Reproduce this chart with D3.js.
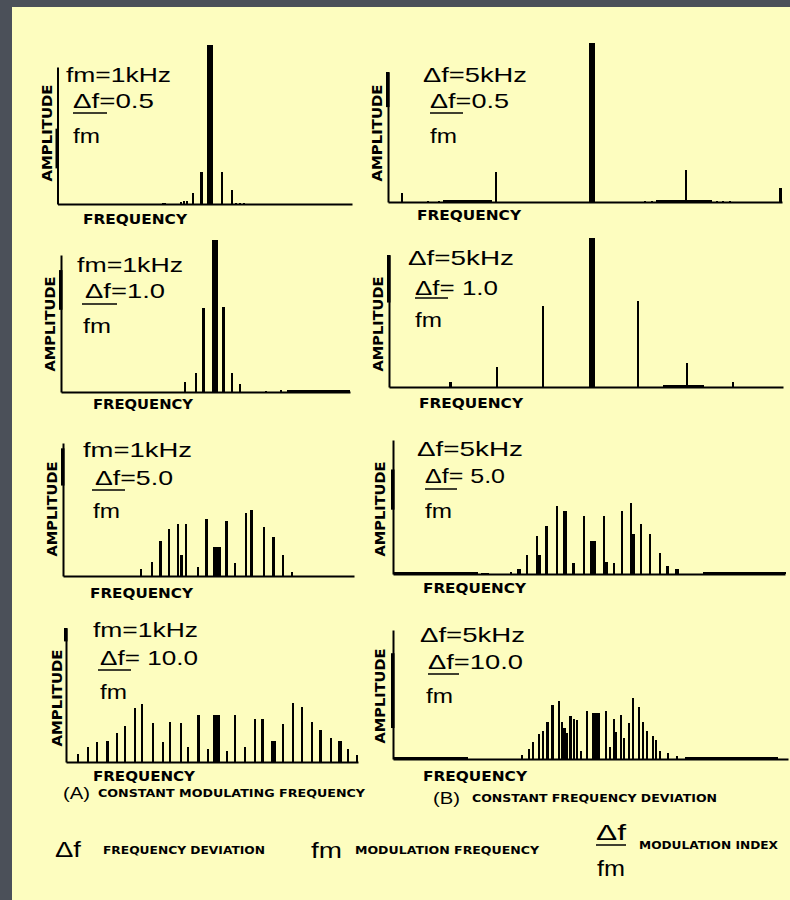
<!DOCTYPE html>
<html>
<head>
<meta charset="utf-8">
<script src="https://cdn.jsdelivr.net/npm/d3@7"></script>
<style>
  body { margin: 0; background: #4b5059; }
  svg { display: block; }
</style>
</head>
<body>
<svg id="chart" width="790" height="900"></svg>
<script>
// FM spectra: spectral lines.
// freq = offset from the carrier in kHz, amp = relative to the drawn y axis,
// spread = width of a merged cluster of lines in kHz (0 = single line)

// (A) constant modulating frequency, fm = 1 kHz
const a1Domain = [-16.2, 15.1];
const a1Freq = [-5.0, -4.8, -3.1, -2.8, -2.4, -1.8, -0.9, 0, 1.3, 2.3, 2.8, 3.2, 3.6];
const a1Amp = [0.01, 0.01, 0.015, 0.02, 0.02, 0.08, 0.23, 1.16, 0.23, 0.10, 0.01, 0.01, 0.01];
const a1Spread = [0, 0, 0, 0, 0, 0.2, 0.25, 0.64, 0.15, 0, 0, 0, 0];

const a2Domain = [-16.4, 14.4];
const a2Freq = [-3.2, -2.0, -1.2, 0, 0.9, 1.8, 2.7, 5.4, 7.0, 11.05];
const a2Amp = [0.07, 0.14, 0.61, 1.11, 0.62, 0.14, 0.06, 0.01, 0.015, 0.015];
const a2Spread = [0, 0, 0.3, 0.6, 0.3, 0, 0, 0, 0, 6.7];

const a3Domain = [-16.4, 14.6];
const a3Freq = [-8.1, -6.9, -6.0, -5.1, -4.1, -3.8, -3.3, -2.0, -1.1, 0, 1.0, 1.9, 3.1, 3.7, 5.0, 6.0, 7.0, 8.0];
const a3Amp = [0.05, 0.105, 0.26, 0.35, 0.39, 0.16, 0.39, 0.07, 0.43, 0.22, 0.41, 0.10, 0.47, 0.50, 0.37, 0.29, 0.16, 0.03];
const a3Spread = [0, 0, 0.3, 0.3, 0, 0.3, 0, 0, 0.3, 0.8, 0.3, 0, 0, 0.3, 0, 0.3, 0, 0.3];

const a4Domain = [-16.0, 15.1];
const a4Freq = [-14.7, -13.7, -12.7, -11.6, -10.6, -9.7, -8.6, -7.9, -6.7, -5.7, -4.9, -3.7, -3.0, -1.9, -0.9, 0,
  1.1, 2.0, 3.1, 4.1, 4.9, 6.1, 7.1, 8.2, 9.1, 10.2, 11.1, 12.2, 13.2, 14.0, 15.0];
const a4Amp = [0.06, 0.11, 0.15, 0.16, 0.22, 0.27, 0.40, 0.43, 0.29, 0.15, 0.30, 0.29, 0.11, 0.35, 0.10, 0.35,
  0.08, 0.35, 0.11, 0.32, 0.32, 0.16, 0.28, 0.44, 0.41, 0.30, 0.24, 0.18, 0.16, 0.10, 0.05];
const a4Spread = [0, 0, 0, 0.35, 0, 0, 0, 0, 0, 0, 0, 0, 0, 0.3, 0, 0.7,
  0, 0, 0, 0, 0.3, 0.45, 0, 0, 0, 0.3, 0.3, 0, 0.4, 0, 0];

// (B) constant frequency deviation, delta f = 5 kHz
const b1Domain = [-21.7, 20.2];
const b1Freq = [-20.2, -17.4, -16.3, -13.2, -10.2, 0, 5.6, 6.4, 9.8, 10.0, 13.3, 13.9, 14.7, 20.0];
const b1Amp = [0.07, 0.01, 0.01, 0.015, 0.23, 1.22, 0.01, 0.01, 0.015, 0.25, 0.01, 0.01, 0.01, 0.11];
const b1Spread = [0, 0, 0, 5.2, 0, 0.65, 0, 0, 5.9, 0.3, 0, 0, 0, 0.3];

const b2Domain = [-21.6, 20.3];
const b2Freq = [-15.1, -10.1, -5.2, 0, 4.9, 9.7, 10.1, 15.0];
const b2Amp = [0.04, 0.15, 0.61, 1.13, 0.65, 0.015, 0.18, 0.04];
const b2Spread = [0.3, 0, 0.15, 0.65, 0.15, 4.3, 0, 0];

const b3Domain = [-21.3, 20.4];
const b3Freq = [-16.8, -11.5, -8.8, -7.9, -7.0, -6.0, -5.7, -5.0, -3.9, -3.0, -2.1, -1.0, 0,
  1.1, 1.4, 2.2, 3.1, 4.0, 4.3, 5.1, 6.0, 7.1, 7.9, 8.9, 16.1];
const b3Amp = [0.015, 0.01, 0.015, 0.04, 0.14, 0.28, 0.14, 0.36, 0.51, 0.47, 0.08, 0.43, 0.25,
  0.43, 0.09, 0.08, 0.47, 0.53, 0.30, 0.37, 0.30, 0.16, 0.06, 0.04, 0.015];
const b3Spread = [9.0, 0.8, 0, 0.4, 0, 0, 0.3, 0.3, 0, 0.35, 0.3, 0, 0.6,
  0, 0.3, 0, 0, 0, 0.3, 0, 0, 0, 0.3, 0.4, 8.8];

const b4Domain = [-21.6, 20.4];
const b4Freq = [-17.6, -7.9, -7.1, -6.7, -6.1, -5.6, -5.2, -4.6, -4.0, -3.6, -3.4, -3.1, -2.7, -2.4, -2.0, -1.6, -1.0, 0,
  1.1, 1.5, 1.9, 2.1, 2.6, 3.0, 3.5, 3.9, 4.6, 5.0, 5.4, 6.0, 6.4, 6.8, 7.6, 8.6, 14.4];
const b4Amp = [0.015, 0.03, 0.08, 0.13, 0.19, 0.22, 0.29, 0.42, 0.45, 0.29, 0.24, 0.20, 0.33, 0.31, 0.30, 0.06, 0.37, 0.36,
  0.37, 0.09, 0.31, 0.21, 0.34, 0.16, 0.28, 0.47, 0.40, 0.29, 0.22, 0.18, 0.15, 0.06, 0.05, 0.02, 0.015];
const b4Spread = [8.0, 0, 0, 0, 0, 0, 0.3, 0.3, 0, 0, 0.3, 0.3, 0.3, 0, 0, 0, 0, 0.9,
  0, 0, 0, 0.3, 0, 0, 0, 0, 0, 0, 0, 0, 0, 0, 0, 0, 9.8];

const titlesA = ['fm=1kHz', 'fm=1kHz', 'fm=1kHz', 'fm=1kHz'];
const titlesB = ['\u0394f=5kHz', '\u0394f=5kHz', '\u0394f=5kHz', '\u0394f=5kHz'];
const indexA = ['\u0394f=0.5', '\u0394f=1.0', '\u0394f=5.0', '\u0394f= 10.0'];
const indexB = ['\u0394f=0.5', '\u0394f= 1.0', '\u0394f= 5.0', '\u0394f=10.0'];

// page geometry
const panels = [
  { freq: a1Freq, amp: a1Amp, spread: a1Spread, domain: a1Domain, title: titlesA[0], index: indexA[0],
    x0: 57.5, x1: 352, base: 204, top: 67, mark: [0.26, 0.55],
    titleAt: [66, 82, 105], indexAt: [73, 108, 81], bar: [73, 107, 113], fmAt: [73, 143, 27],
    ampAt: [47, 133, 97], freqAt: [83, 219, 104] },
  { freq: a2Freq, amp: a2Amp, spread: a2Spread, domain: a2Domain, title: titlesA[1], index: indexA[1],
    x0: 61, x1: 350, base: 392, top: 255, mark: [0.60, 0.89],
    titleAt: [77, 272, 106], indexAt: [85, 298, 80], bar: [82, 117, 304], fmAt: [83, 333, 28],
    ampAt: [50, 324, 95], freqAt: [93, 404, 100] },
  { freq: a3Freq, amp: a3Amp, spread: a3Spread, domain: a3Domain, title: titlesA[2], index: indexA[2],
    x0: 63, x1: 354, base: 576, top: 443, mark: [0.68, 0.96],
    titleAt: [83, 457, 109], indexAt: [95, 485, 78], bar: [92, 125, 490], fmAt: [93, 518, 27],
    ampAt: [52, 509, 95], freqAt: [90, 593, 103] },
  { freq: a4Freq, amp: a4Amp, spread: a4Spread, domain: a4Domain, title: titlesA[3], index: indexA[3],
    x0: 66, x1: 358, base: 762, top: 628, mark: [0.90, 1.0],
    titleAt: [93, 637, 105], indexAt: [100, 665, 98], bar: [98, 131, 670], fmAt: [100, 699, 27],
    ampAt: [57, 698, 97], freqAt: [93, 776, 102] },
  { freq: b1Freq, amp: b1Amp, spread: b1Spread, domain: b1Domain, title: titlesB[0], index: indexB[0],
    x0: 388, x1: 782, base: 202, top: 72, mark: [0.73, 1.0],
    titleAt: [423, 82, 104], indexAt: [430, 108, 79], bar: [430, 463, 113], fmAt: [430, 143, 27],
    ampAt: [377, 133, 97], freqAt: [417, 215, 104] },
  { freq: b2Freq, amp: b2Amp, spread: b2Spread, domain: b2Domain, title: titlesB[1], index: indexB[1],
    x0: 389, x1: 783, base: 387, top: 255, mark: [0.64, 1.0],
    titleAt: [408, 265, 106], indexAt: [415, 295, 83], bar: [415, 448, 298], fmAt: [415, 327, 27],
    ampAt: [378, 324, 95], freqAt: [419, 403, 104] },
  { freq: b3Freq, amp: b3Amp, spread: b3Spread, domain: b3Domain, title: titlesB[2], index: indexB[2],
    x0: 393, x1: 785, base: 574, top: 440, mark: [0.48, 0.78],
    titleAt: [417, 456, 106], indexAt: [425, 483, 80], bar: [425, 457, 489], fmAt: [425, 518, 27],
    ampAt: [380, 509, 95], freqAt: [423, 588, 103] },
  { freq: b4Freq, amp: b4Amp, spread: b4Spread, domain: b4Domain, title: titlesB[3], index: indexB[3],
    x0: 393, x1: 788, base: 759, top: 630, mark: [0.24, 0.82],
    titleAt: [420, 642, 105], indexAt: [428, 669, 95], bar: [428, 459, 674], fmAt: [426, 703, 27],
    ampAt: [380, 696, 95], freqAt: [423, 776, 104] },
];

const INK = '#000';
const PAPER = '#fdfdbf';
const THIN = 'Liberation Sans, Arial, sans-serif';
const BLOCK = 'DejaVu Sans, Verdana, sans-serif';

const svg = d3.select('#chart');
svg.append('rect').attr('x', 0).attr('y', 0).attr('width', 790).attr('height', 900).attr('fill', '#4b5059');
svg.append('rect').attr('x', 12).attr('y', 7).attr('width', 778).attr('height', 893).attr('fill', PAPER);

// text squeezed or stretched to the width seen in the scan
function fitText(g, str, x, y, len, size, weight, family) {
  return g.append('text')
    .attr('x', x).attr('y', y)
    .attr('textLength', len).attr('lengthAdjust', 'spacingAndGlyphs')
    .attr('font-family', family).attr('font-size', size).attr('font-weight', weight)
    .attr('fill', INK)
    .text(str);
}

panels.forEach((p) => {
  const g = svg.append('g');
  const x = d3.scaleLinear().domain(p.domain).range([p.x0, p.x1]);
  const y = d3.scaleLinear().domain([0, 1]).range([p.base, p.top]);
  const barW = (d) => Math.max(2, x(d.f + d.s / 2) - x(d.f - d.s / 2));

  const lines = p.freq.map((f, i) => ({ f, a: p.amp[i], s: p.spread[i] }));
  g.selectAll('rect.line').data(lines).join('rect')
    .attr('class', 'line')
    .attr('x', (d) => x(d.f) - barW(d) / 2)
    .attr('width', barW)
    .attr('y', (d) => y(d.a))
    .attr('height', (d) => p.base - y(d.a))
    .attr('fill', INK)
    .attr('shape-rendering', 'crispEdges');

  // axes: bare lines, no ticks
  const xAxis = g.append('g').attr('transform', `translate(0,${p.base})`)
    .call(d3.axisBottom(x).tickValues([]).tickSizeOuter(0));
  const yAxis = g.append('g').attr('transform', `translate(${p.x0},0)`)
    .call(d3.axisLeft(y).tickValues([]).tickSizeOuter(0));
  [xAxis, yAxis].forEach((a) => a.select('.domain').attr('stroke', INK).attr('stroke-width', 2));

  // heavier stretch on the amplitude axis, as in the scan
  g.append('rect')
    .attr('x', p.x0 - 2).attr('width', 3.5)
    .attr('y', y(p.mark[1])).attr('height', y(p.mark[0]) - y(p.mark[1]))
    .attr('fill', INK);

  // annotations
  fitText(g, p.title, p.titleAt[0], p.titleAt[1], p.titleAt[2], 21, 400, THIN);
  fitText(g, p.index, p.indexAt[0], p.indexAt[1], p.indexAt[2], 21, 400, THIN);
  g.append('line')
    .attr('x1', p.bar[0]).attr('x2', p.bar[1]).attr('y1', p.bar[2]).attr('y2', p.bar[2])
    .attr('stroke', INK).attr('stroke-width', 1.5);
  fitText(g, 'fm', p.fmAt[0], p.fmAt[1], p.fmAt[2], 21, 400, THIN);

  fitText(g, 'FREQUENCY', p.freqAt[0], p.freqAt[1] + 5, p.freqAt[2], 13.5, 700, BLOCK);
  g.append('text')
    .attr('transform', `translate(${p.ampAt[0] + 5},${p.ampAt[1]}) rotate(-90)`)
    .attr('text-anchor', 'middle')
    .attr('textLength', p.ampAt[2]).attr('lengthAdjust', 'spacingAndGlyphs')
    .attr('font-family', BLOCK).attr('font-size', 13.5).attr('font-weight', 700)
    .attr('fill', INK)
    .text('AMPLITUDE');
});

// column captions
fitText(svg, '(A)', 63, 799, 27, 17, 400, THIN);
fitText(svg, 'CONSTANT MODULATING FREQUENCY', 98, 797, 267, 11, 700, BLOCK);
fitText(svg, '(B)', 433, 804, 27, 17, 400, THIN);
fitText(svg, 'CONSTANT FREQUENCY DEVIATION', 472, 802, 245, 11, 700, BLOCK);

// symbol key
fitText(svg, '\u0394f', 55, 857, 26, 22, 400, THIN);
fitText(svg, 'FREQUENCY DEVIATION', 103, 854, 162, 11, 700, BLOCK);
fitText(svg, 'fm', 311, 858, 31, 22, 400, THIN);
fitText(svg, 'MODULATION FREQUENCY', 355, 854, 184, 11, 700, BLOCK);
fitText(svg, '\u0394f', 596, 840, 30, 22, 400, THIN);
svg.append('line').attr('x1', 596).attr('x2', 626).attr('y1', 845).attr('y2', 845)
  .attr('stroke', INK).attr('stroke-width', 1.5);
fitText(svg, 'fm', 597, 876, 28, 22, 400, THIN);
fitText(svg, 'MODULATION INDEX', 639, 849, 139, 11, 700, BLOCK);
</script>
</body>
</html>
